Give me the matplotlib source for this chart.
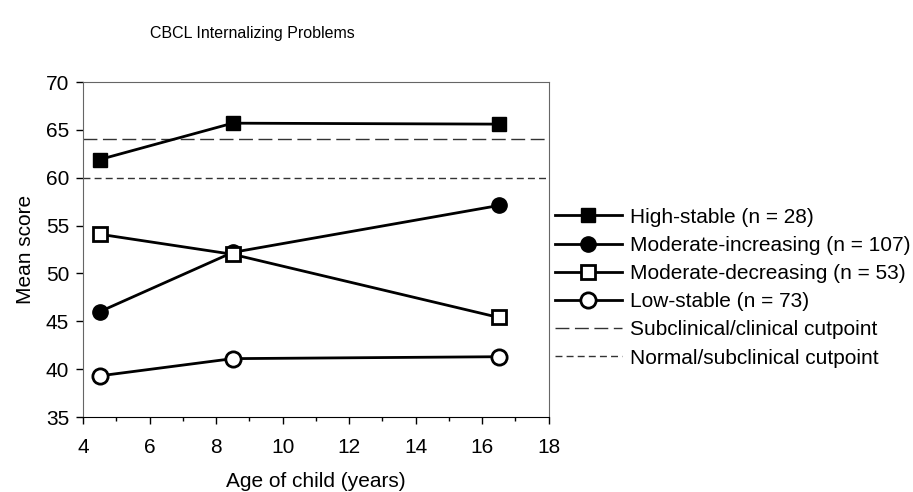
import matplotlib
matplotlib.use('Agg')
import matplotlib.pyplot as plt

plt.rcParams['font.family'] = ['Liberation Sans', 'DejaVu Sans']

# age of child at each wave
ages = [4.5, 8.5, 16.5]
# mean scores per trajectory group
high_stable = [61.9, 65.7, 65.6]
mod_increasing = [46.0, 52.2, 57.1]
mod_decreasing = [54.1, 52.0, 45.4]
low_stable = [39.3, 41.1, 41.3]
labels = ['High-stable (n = 28)', 'Moderate-increasing (n = 107)',
          'Moderate-decreasing (n = 53)', 'Low-stable (n = 73)']
cut_clinical = 64
cut_subclinical = 60

fig = plt.figure(figsize=(9.13, 4.92), dpi=100)
ax = fig.add_axes([0.0909, 0.1524, 0.5101, 0.6809])

ax.plot(ages, high_stable, color='k', lw=2, marker='s', ms=10,
        mfc='k', mec='k', label=labels[0], zorder=3)
ax.plot(ages, mod_increasing, color='k', lw=2, marker='o', ms=11,
        mfc='k', mec='k', label=labels[1], zorder=3)
ax.plot(ages, mod_decreasing, color='k', lw=2, marker='s', ms=10,
        mfc='white', mec='k', mew=2, label=labels[2], zorder=4)
ax.plot(ages, low_stable, color='k', lw=2, marker='o', ms=11,
        mfc='white', mec='k', mew=2, label=labels[3], zorder=3)

ax.axhline(cut_clinical, color='#333333', lw=1, dashes=(10, 4),
           label='Subclinical/clinical cutpoint', zorder=2)
ax.axhline(cut_subclinical, color='#333333', lw=1, dashes=(5, 3),
           label='Normal/subclinical cutpoint', zorder=2)

ax.set_xlim(4, 18)
ax.set_ylim(35, 70)
ax.set_xticks(range(4, 19, 2))
ax.set_xticks(range(5, 18, 2), minor=True)
ax.set_yticks(range(35, 71, 5))
ax.tick_params(axis='both', labelsize=15, direction='out', length=5,
               width=1, color='k', pad=5)
ax.tick_params(axis='x', which='minor', length=3, width=1)
ax.tick_params(axis='x', pad=10)
for s in ['top', 'right', 'left']:
    ax.spines[s].set_color('#666666')
ax.spines['bottom'].set_color('k')

ax.set_ylabel('Mean score', fontsize=15, labelpad=8)
fig.text(316 / 913, 1 - 491 / 492, 'Age of child (years)',
         ha='center', va='bottom', fontsize=15)
fig.text(252 / 913, 1 - 33 / 492, 'CBCL Internalizing Problems',
         ha='center', va='center', fontsize=11.5)

ax.legend(loc='center left', bbox_to_anchor=(1.0, 0.386), frameon=False,
          fontsize=15, handlelength=3.2, handletextpad=0.4, labelspacing=0.44,
          borderaxespad=0.1, borderpad=0.2)

fig.savefig('out.png', dpi=100)
